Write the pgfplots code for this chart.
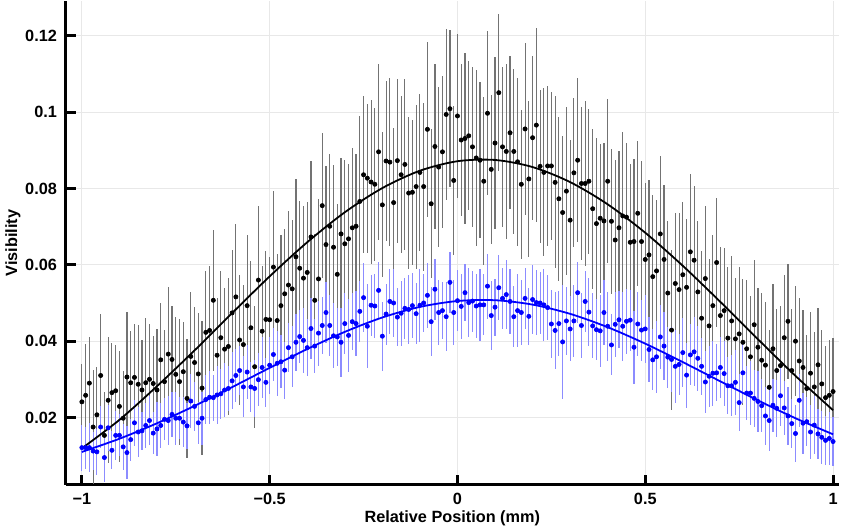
\documentclass[border=0pt]{standalone}
\usepackage{fontspec}
\setmainfont{Liberation Sans}
\usepackage{pgfplots}
\usepackage{pgfplotstable}
\pgfplotsset{compat=1.18}

% x, black visibility + error, blue visibility + error
\pgfplotstableread{
x yb eb yl el
-1.00 0.0241 0.0100 0.0121 0.0060
-0.99 0.0258 0.0135 0.0121 0.0055
-0.98 0.0290 0.0120 0.0121 0.0065
-0.97 0.0175 0.0150 0.0112 0.0050
-0.96 0.0207 0.0125 0.0110 0.0060
-0.95 0.0310 0.0160 0.0175 0.0055
-0.94 0.0153 0.0115 0.0095 0.0065
-0.93 0.0245 0.0165 0.0173 0.0060
-0.92 0.0265 0.0130 0.0114 0.0050
-0.91 0.0270 0.0120 0.0153 0.0065
-0.90 0.0229 0.0145 0.0153 0.0055
-0.89 0.0198 0.0125 0.0123 0.0060
-0.88 0.0306 0.0170 0.0108 0.0070
-0.87 0.0291 0.0135 0.0142 0.0055
-0.86 0.0305 0.0140 0.0186 0.0060
-0.85 0.0287 0.0155 0.0162 0.0065
-0.84 0.0272 0.0130 0.0165 0.0050
-0.83 0.0291 0.0170 0.0179 0.0060
-0.82 0.0300 0.0145 0.0192 0.0065
-0.81 0.0289 0.0125 0.0159 0.0055
-0.80 0.0272 0.0160 0.0170 0.0070
-0.79 0.0351 0.0150 0.0179 0.0060
-0.78 0.0294 0.0135 0.0195 0.0055
-0.77 0.0366 0.0175 0.0192 0.0065
-0.76 0.0352 0.0140 0.0208 0.0060
-0.75 0.0313 0.0150 0.0198 0.0070
-0.74 0.0294 0.0165 0.0198 0.0055
-0.73 0.0320 0.0130 0.0188 0.0065
-0.72 0.0250 0.0155 0.0178 0.0060
-0.71 0.0360 0.0170 0.0243 0.0070
-0.70 0.0344 0.0145 0.0229 0.0065
-0.69 0.0314 0.0160 0.0186 0.0055
-0.68 0.0277 0.0175 0.0198 0.0070
-0.67 0.0423 0.0160 0.0247 0.0065
-0.66 0.0428 0.0170 0.0253 0.0070
-0.65 0.0507 0.0185 0.0252 0.0060
-0.64 0.0363 0.0150 0.0259 0.0075
-0.63 0.0409 0.0175 0.0262 0.0065
-0.62 0.0379 0.0160 0.0272 0.0070
-0.61 0.0386 0.0180 0.0276 0.0060
-0.60 0.0474 0.0165 0.0296 0.0075
-0.59 0.0516 0.0190 0.0310 0.0070
-0.58 0.0403 0.0170 0.0323 0.0065
-0.57 0.0391 0.0155 0.0280 0.0080
-0.56 0.0493 0.0185 0.0319 0.0070
-0.55 0.0435 0.0175 0.0280 0.0065
-0.54 0.0333 0.0160 0.0276 0.0075
-0.53 0.0560 0.0195 0.0299 0.0070
-0.52 0.0426 0.0170 0.0331 0.0080
-0.51 0.0457 0.0180 0.0292 0.0065
-0.50 0.0456 0.0165 0.0337 0.0075
-0.49 0.0594 0.0200 0.0365 0.0070
-0.48 0.0454 0.0175 0.0342 0.0085
-0.47 0.0493 0.0185 0.0346 0.0070
-0.46 0.0524 0.0170 0.0324 0.0075
-0.45 0.0547 0.0195 0.0383 0.0065
-0.44 0.0537 0.0180 0.0359 0.0080
-0.43 0.0621 0.0205 0.0397 0.0075
-0.42 0.0591 0.0175 0.0412 0.0070
-0.41 0.0565 0.0190 0.0402 0.0085
-0.40 0.0580 0.0185 0.0383 0.0075
-0.39 0.0673 0.0200 0.0433 0.0080
-0.38 0.0507 0.0175 0.0387 0.0070
-0.37 0.0563 0.0210 0.0421 0.0085
-0.36 0.0755 0.0190 0.0441 0.0075
-0.35 0.0653 0.0205 0.0475 0.0080
-0.34 0.0701 0.0190 0.0441 0.0080
-0.33 0.0646 0.0215 0.0414 0.0085
-0.32 0.0575 0.0185 0.0411 0.0075
-0.31 0.0681 0.0200 0.0397 0.0090
-0.30 0.0655 0.0220 0.0446 0.0080
-0.29 0.0668 0.0195 0.0415 0.0095
-0.28 0.0697 0.0210 0.0451 0.0075
-0.27 0.0701 0.0190 0.0446 0.0085
-0.26 0.0766 0.0225 0.0478 0.0080
-0.25 0.0836 0.0205 0.0514 0.0090
-0.24 0.0827 0.0195 0.0439 0.0110
-0.23 0.0817 0.0215 0.0494 0.0080
-0.22 0.0811 0.0200 0.0492 0.0085
-0.21 0.0896 0.0230 0.0533 0.0075
-0.20 0.0757 0.0190 0.0413 0.0090
-0.19 0.0872 0.0210 0.0471 0.0080
-0.18 0.0869 0.0220 0.0504 0.0085
-0.17 0.0763 0.0195 0.0500 0.0090
-0.16 0.0873 0.0215 0.0463 0.0075
-0.15 0.0836 0.0205 0.0473 0.0085
-0.14 0.0863 0.0225 0.0486 0.0080
-0.13 0.0788 0.0200 0.0483 0.0090
-0.12 0.0790 0.0190 0.0493 0.0085
-0.11 0.0805 0.0215 0.0472 0.0080
-0.10 0.0842 0.0205 0.0494 0.0095
-0.09 0.0805 0.0220 0.0500 0.0075
-0.08 0.0955 0.0230 0.0520 0.0085
-0.07 0.0760 0.0195 0.0451 0.0090
-0.06 0.0910 0.0215 0.0536 0.0080
-0.05 0.0856 0.0210 0.0475 0.0085
-0.04 0.0896 0.0200 0.0480 0.0075
-0.03 0.0994 0.0225 0.0464 0.0090
-0.02 0.1009 0.0205 0.0554 0.0080
-0.01 0.0821 0.0195 0.0475 0.0085
0.00 0.0990 0.0215 0.0506 0.0080
0.01 0.0927 0.0200 0.0491 0.0085
0.02 0.0931 0.0225 0.0527 0.0075
0.03 0.0938 0.0195 0.0501 0.0090
0.04 0.0909 0.0210 0.0505 0.0080
0.05 0.0880 0.0230 0.0492 0.0085
0.06 0.0874 0.0205 0.0495 0.0095
0.07 0.0819 0.0220 0.0495 0.0080
0.08 0.0997 0.0215 0.0544 0.0085
0.09 0.0850 0.0195 0.0467 0.0090
0.10 0.0919 0.0225 0.0489 0.0075
0.11 0.1051 0.0205 0.0540 0.0085
0.12 0.0909 0.0210 0.0512 0.0080
0.13 0.0897 0.0230 0.0522 0.0090
0.14 0.0946 0.0200 0.0504 0.0085
0.15 0.0897 0.0215 0.0464 0.0080
0.16 0.0870 0.0220 0.0480 0.0095
0.17 0.0811 0.0195 0.0475 0.0085
0.18 0.0956 0.0225 0.0512 0.0080
0.19 0.0825 0.0205 0.0465 0.0075
0.20 0.0933 0.0215 0.0509 0.0090
0.21 0.0966 0.0255 0.0501 0.0085
0.22 0.0858 0.0200 0.0500 0.0080
0.23 0.0842 0.0220 0.0495 0.0095
0.24 0.0859 0.0210 0.0488 0.0085
0.25 0.0859 0.0195 0.0445 0.0090
0.26 0.0816 0.0225 0.0428 0.0100
0.27 0.0773 0.0215 0.0446 0.0085
0.28 0.0737 0.0200 0.0398 0.0150
0.29 0.0793 0.0220 0.0453 0.0090
0.30 0.0717 0.0210 0.0432 0.0085
0.31 0.0841 0.0195 0.0453 0.0095
0.32 0.0874 0.0215 0.0527 0.0080
0.33 0.0813 0.0200 0.0441 0.0085
0.34 0.0813 0.0215 0.0504 0.0080
0.35 0.0819 0.0190 0.0476 0.0090
0.36 0.0747 0.0210 0.0440 0.0085
0.37 0.0708 0.0225 0.0430 0.0080
0.38 0.0722 0.0195 0.0427 0.0095
0.39 0.0715 0.0205 0.0475 0.0085
0.40 0.0819 0.0215 0.0439 0.0090
0.41 0.0714 0.0190 0.0390 0.0080
0.42 0.0665 0.0210 0.0444 0.0085
0.43 0.0697 0.0200 0.0456 0.0075
0.44 0.0728 0.0220 0.0439 0.0090
0.45 0.0725 0.0195 0.0452 0.0085
0.46 0.0659 0.0205 0.0455 0.0080
0.47 0.0661 0.0215 0.0384 0.0095
0.48 0.0735 0.0190 0.0445 0.0085
0.49 0.0661 0.0210 0.0429 0.0080
0.50 0.0614 0.0200 0.0432 0.0090
0.51 0.0626 0.0195 0.0378 0.0085
0.52 0.0569 0.0215 0.0351 0.0080
0.53 0.0584 0.0185 0.0359 0.0095
0.54 0.0681 0.0205 0.0411 0.0085
0.55 0.0614 0.0195 0.0387 0.0090
0.56 0.0526 0.0190 0.0358 0.0080
0.57 0.0429 0.0210 0.0352 0.0085
0.58 0.0551 0.0185 0.0334 0.0095
0.59 0.0535 0.0200 0.0339 0.0080
0.60 0.0574 0.0190 0.0370 0.0090
0.61 0.0541 0.0180 0.0311 0.0085
0.62 0.0634 0.0205 0.0364 0.0080
0.63 0.0612 0.0195 0.0372 0.0090
0.64 0.0529 0.0185 0.0355 0.0085
0.65 0.0460 0.0175 0.0334 0.0075
0.66 0.0564 0.0190 0.0293 0.0080
0.67 0.0440 0.0175 0.0308 0.0080
0.68 0.0493 0.0185 0.0316 0.0085
0.69 0.0606 0.0170 0.0317 0.0075
0.70 0.0467 0.0180 0.0331 0.0080
0.71 0.0480 0.0165 0.0315 0.0085
0.72 0.0408 0.0185 0.0283 0.0075
0.73 0.0453 0.0170 0.0283 0.0080
0.74 0.0406 0.0160 0.0292 0.0085
0.75 0.0419 0.0175 0.0239 0.0075
0.76 0.0397 0.0165 0.0317 0.0080
0.77 0.0380 0.0180 0.0264 0.0070
0.78 0.0359 0.0160 0.0264 0.0085
0.79 0.0443 0.0170 0.0250 0.0075
0.80 0.0384 0.0155 0.0242 0.0080
0.81 0.0350 0.0175 0.0231 0.0070
0.82 0.0337 0.0165 0.0204 0.0075
0.83 0.0279 0.0150 0.0192 0.0080
0.84 0.0380 0.0170 0.0232 0.0070
0.85 0.0323 0.0160 0.0224 0.0075
0.86 0.0336 0.0155 0.0257 0.0080
0.87 0.0409 0.0165 0.0225 0.0070
0.88 0.0452 0.0150 0.0204 0.0075
0.89 0.0323 0.0160 0.0184 0.0065
0.90 0.0400 0.0145 0.0158 0.0075
0.91 0.0348 0.0165 0.0245 0.0070
0.92 0.0331 0.0150 0.0185 0.0080
0.93 0.0276 0.0140 0.0189 0.0065
0.94 0.0316 0.0160 0.0162 0.0070
0.95 0.0280 0.0145 0.0180 0.0075
0.96 0.0338 0.0150 0.0157 0.0065
0.97 0.0288 0.0140 0.0148 0.0070
0.98 0.0252 0.0135 0.0140 0.0065
0.99 0.0258 0.0145 0.0145 0.0070
1.00 0.0268 0.0140 0.0137 0.0065
}\vis

\begin{document}
\begin{tikzpicture}
\begin{axis}[
    scale only axis,
    width=475pt, height=297pt,
    xmin=-1.0425, xmax=1.015,
    ymin=0.0024, ymax=0.129,
    axis x line*=bottom, axis y line*=left,
    axis line style={-, line width=1.8pt},
    xtick align=inside, ytick align=inside,
    major tick length=6pt,
    every tick/.style={black, line width=1.8pt},
    xtick={-1,-0.5,0,0.5,1},
    xticklabels={−1,−0.5,0,0.5,1},
    ytick={0.02,0.04,0.06,0.08,0.1,0.12},
    yticklabels={0.02,0.04,0.06,0.08,0.1,0.12},
    ticklabel style={font=\bfseries},
    yticklabel style={xshift=-2pt},
    xticklabel style={yshift=-1.5pt},
    ylabel shift=-4pt,
    xlabel shift=-3pt,
    grid=major,
    major grid style={line width=0.6pt, black!9},
    xlabel={Relative Position (mm)},
    ylabel={Visibility},
    label style={font=\bfseries},
  ]
  \addplot[only marks, mark=*, mark size=1.3pt, black,
    error bars/.cd, y dir=both, y explicit, error mark=none,
    error bar style={black!55, line width=0.7pt}]
    table[x=x, y=yb, y error=eb] {\vis};
  \addplot[only marks, mark=*, mark size=1.3pt, blue,
    error bars/.cd, y dir=both, y explicit, error mark=none,
    error bar style={blue!45, line width=0.7pt}]
    table[x=x, y=yl, y error=el] {\vis};

  % fitted curves
  \addplot[black, line width=1.1pt, smooth, no marks] coordinates {
    (-1.0,0.01191) (-0.9,0.01938) (-0.8,0.02820) (-0.7,0.03757)
    (-0.6,0.04735) (-0.5,0.05697) (-0.4,0.06591) (-0.3,0.07376)
    (-0.2,0.08011) (-0.1,0.08465) (0.0,0.08714) (0.1,0.08747)
    (0.2,0.08561) (0.3,0.08167) (0.4,0.07584) (0.5,0.06840)
    (0.6,0.05973) (0.7,0.05028) (0.8,0.04050) (0.9,0.03089)
    (1.0,0.02190)
  };
  \addplot[blue, line width=1.1pt, smooth, no marks] coordinates {
    (-1.0,0.01097) (-0.9,0.01443) (-0.8,0.01848) (-0.7,0.02304)
    (-0.6,0.02795) (-0.5,0.03300) (-0.4,0.03793) (-0.3,0.04243)
    (-0.2,0.04620) (-0.1,0.04897) (0.0,0.05051) (0.1,0.05072)
    (0.2,0.04957) (0.3,0.04715) (0.4,0.04365) (0.5,0.03934)
    (0.6,0.03450) (0.7,0.02946) (0.8,0.02448) (0.9,0.01980)
    (1.0,0.01559)
  };
\end{axis}
\end{tikzpicture}
\end{document}
